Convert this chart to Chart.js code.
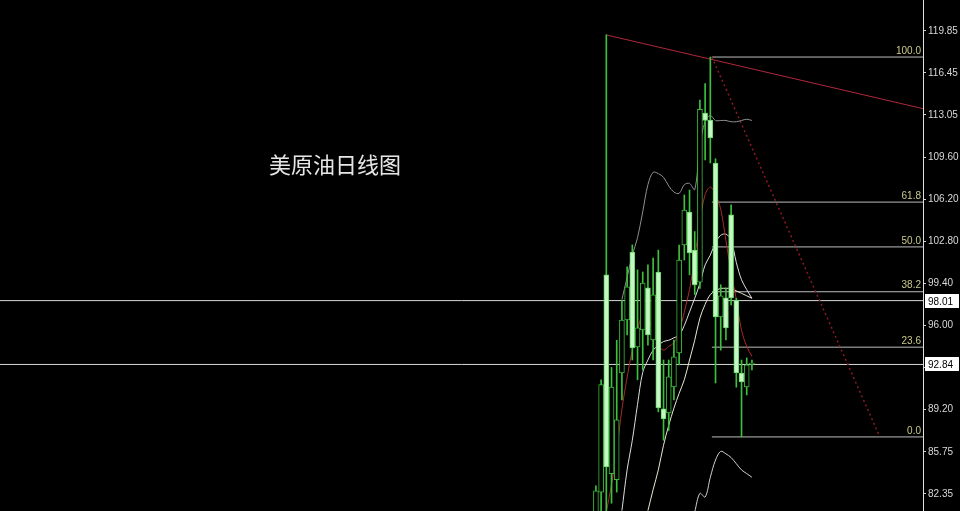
<!DOCTYPE html>
<html>
<head>
<meta charset="utf-8">
<script src="https://cdn.jsdelivr.net/npm/chart.js"></script>
<style>
    html, body { margin: 0; padding: 0; background: #000; }
    #wrap { width: 960px; height: 511px; }
</style>
</head>
<body>
<div id="wrap"><canvas id="oil"></canvas></div>
<script>
// candle index (one per trading day)
const candleIdx = [0, 1, 2, 3, 4, 5, 6, 7, 8, 9, 10, 11, 12, 13, 14, 15, 16, 17, 18, 19, 20, 21, 22, 23, 24, 25, 26, 27, 28, 29, 30];
const opens  = [80.2, 82.5, 100.09, 84.0, 83.5, 92.15, 96.44, 101.95, 94.26, 95.63, 99.04, 94.82, 100.33, 89.24, 88.91, 91.02, 93.77, 102.52, 105.19, 102.1, 99.5, 113.2, 112.64, 109.16, 96.7, 98.23, 104.95, 98.06, 92.15, 91.02, 92.84];
const highs  = [83.0, 91.6, 119.53, 92.6, 94.8, 98.06, 100.74, 102.52, 100.5, 100.33, 100.9, 101.46, 102.1, 93.2, 93.2, 94.82, 102.5, 106.57, 106.97, 103.6, 114.26, 115.6, 117.74, 109.5, 99.3, 99.04, 105.76, 98.2, 93.2, 93.37, 93.2];
const lows   = [79.5, 81.0, 80.5, 81.6, 82.5, 89.96, 95.23, 93.2, 91.6, 92.4, 94.4, 93.2, 89.0, 86.7, 87.5, 89.96, 92.8, 101.3, 100.1, 98.5, 99.0, 109.4, 109.16, 91.34, 94.0, 94.82, 97.66, 91.0, 86.97, 90.37, 92.4];
const closes = [82.6, 91.2, 84.54, 91.0, 88.35, 96.44, 99.12, 94.18, 95.8, 99.44, 95.23, 98.47, 89.32, 88.43, 91.83, 93.45, 101.3, 105.35, 101.87, 99.28, 113.5, 112.6, 111.18, 96.69, 98.4, 95.8, 98.23, 92.15, 91.42, 92.8, 92.95];

// indicator lines
const maFast    = [null, null, 80.9, 83.1, 85.9, 89.2, 91.8, 94.0, 95.6, 96.9, 96.6, 95.6, 94.4, 94.0, 94.3, 94.6, 95.5, 97.1, 98.9, 101.5, 104.4, 106.6, 107.2, 106.6, 105.4, 102.9, 100.3, 98.1, 95.6, 94.3, 93.5];
const bandUpper = [null, null, null, null, null, 98.1, 99.9, 101.7, 103.1, 105.2, 107.4, 108.4, 108.3, 108.0, 107.3, 106.8, 106.7, 107.4, 107.5, 107.0, 110.6, 112.5, 113.0, 112.6, 112.6, 112.6, 112.5, 112.5, 112.6, 112.7, 112.6];
const bandMid   = [null, null, null, null, null, 81.0, 84.3, 86.7, 89.6, 92.2, 93.2, 94.0, 94.4, 94.7, 94.8, 95.0, 95.2, 96.0, 97.1, 98.2, 99.4, 100.9, 101.7, 102.7, 103.3, 103.4, 102.9, 101.1, 99.7, 98.9, 98.2];
const maSlow    = [null, null, null, null, null, null, null, null, null, null, 81.0, 82.7, 84.3, 86.3, 87.9, 89.3, 90.5, 91.6, 93.2, 94.8, 96.6, 97.7, 98.5, 98.8, 99.0, 99.0, 99.0, 98.8, 98.6, 98.4, 98.2];
const bandLower = [null, null, null, null, null, null, null, null, null, null, null, null, null, null, null, null, null, null, null, 80.9, 82.4, 82.1, 83.7, 85.1, 85.8, 85.6, 85.3, 84.8, 84.3, 84.0, 83.7];

// axis + drawings
const yTicks = [119.85, 116.45, 113.05, 109.60, 106.20, 102.80, 99.40, 96.00, 92.60, 89.20, 85.75, 82.35];
const fibLevels = [117.74, 105.99, 102.36, 98.73, 94.24, 86.97];
const fibLabels = ['100.0', '61.8', '50.0', '38.2', '23.6', '0.0'];
const priceLines = [98.01, 92.84];
const trendHigh = [{x: 2, y: 119.53}, {x: 62.9, y: 113.56}];
const trendDrop = [{x: 22.3, y: 117.74}, {x: 54.6, y: 86.97}];
const fibStart = 22.3;
const title = '美原油日线图';

const X_MIN = -114.6, X_MAX = 62.9;

const pts = arr => candleIdx.map((x, k) => ({x: x, y: arr[k]}));
const isDown = k => closes[k] < opens[k];

function lineDs(data, color, extra) {
    return Object.assign({
        type: 'line', data: data, borderColor: color, borderWidth: 1,
        pointRadius: 0, tension: 0.35, fill: false
    }, extra || {});
}

const datasets = [
    {
        type: 'bar',
        data: candleIdx.map((x, k) => ({x: x, y: [Math.min(opens[k], closes[k]), Math.max(opens[k], closes[k])]})),
        backgroundColor: candleIdx.map((x, k) => isDown(k) ? '#c4f7c4' : '#000'),
        borderColor: candleIdx.map((x, k) => isDown(k) ? '#62d862' : '#3cb83c'),
        borderWidth: 1, borderSkipped: false, barThickness: 5, grouped: false
    },
    {
        type: 'bar',
        data: candleIdx.map((x, k) => ({x: x, y: [lows[k], highs[k]]})),
        backgroundColor: '#3fbf3f', borderWidth: 0, barThickness: 1, grouped: false
    },
    lineDs(pts(maFast), '#a82a2a'),
    lineDs(pts(bandUpper), '#8f8f8f'),
    lineDs(pts(bandMid), '#dedede'),
    lineDs(pts(maSlow), '#e8e8d2'),
    lineDs(pts(bandLower), '#cfcfcf'),
    lineDs(trendHigh, '#b0283c', {tension: 0}),
    lineDs(trendDrop, '#8c1a22', {tension: 0, borderDash: [2, 3], borderWidth: 1.5})
];

fibLevels.forEach(v => datasets.push(lineDs([{x: fibStart, y: v}, {x: X_MAX, y: v}], '#bdbdbd', {tension: 0})));
priceLines.forEach(v => datasets.push(lineDs([{x: X_MIN, y: v}, {x: X_MAX, y: v}], '#d8d8d8', {tension: 0})));

const overlay = {
    id: 'overlay',
    afterDraw(chart) {
        const {ctx, chartArea, scales: {y}} = chart;
        ctx.save();
        ctx.font = '10px "Liberation Sans"';
        ctx.fillStyle = '#c9c98a';
        ctx.textAlign = 'right';
        ctx.textBaseline = 'bottom';
        fibLevels.forEach((v, k) => ctx.fillText(fibLabels[k], chartArea.right - 2, y.getPixelForValue(v) - 1));

        priceLines.forEach(v => {
            const py = Math.round(y.getPixelForValue(v));
            ctx.fillStyle = '#fff';
            ctx.fillRect(chartArea.right + 2, py - 7, 34, 14);
            ctx.fillStyle = '#000';
            ctx.textAlign = 'left';
            ctx.textBaseline = 'middle';
            ctx.fillText(v.toFixed(2), chartArea.right + 5, py + 1);
        });

        ctx.font = '22px "Noto Sans CJK SC"';
        ctx.fillStyle = '#e6e6e6';
        ctx.textAlign = 'center';
        ctx.textBaseline = 'middle';
        ctx.fillText(title, chartArea.left + chartArea.width * 0.363, chartArea.top + chartArea.height * 0.323);
        ctx.restore();
    }
};

new Chart(document.getElementById('oil'), {
    type: 'line',
    data: {datasets: datasets},
    options: {
        responsive: true,
        maintainAspectRatio: false,
        animation: false,
        layout: {padding: 0},
        plugins: {legend: {display: false}, tooltip: {enabled: false}},
        scales: {
            x: {type: 'linear', display: false, min: X_MIN, max: X_MAX, offset: false},
            y: {
                position: 'right',
                min: 80.97, max: 122.36,
                afterBuildTicks: s => { s.ticks = yTicks.map(v => ({value: v})); },
                afterFit: s => { s.width = 37; s.paddingTop = 0; s.paddingBottom = 0; },
                ticks: {
                    color: '#d8d8d8', padding: 2,
                    font: {family: 'Liberation Sans', size: 10},
                    callback: v => Number(v).toFixed(2)
                },
                grid: {drawOnChartArea: false, drawTicks: true, tickLength: 3, color: '#cfcfcf'},
                border: {display: true, color: '#e0e0e0'}
            }
        }
    },
    plugins: [overlay]
});
</script>
</body>
</html>
